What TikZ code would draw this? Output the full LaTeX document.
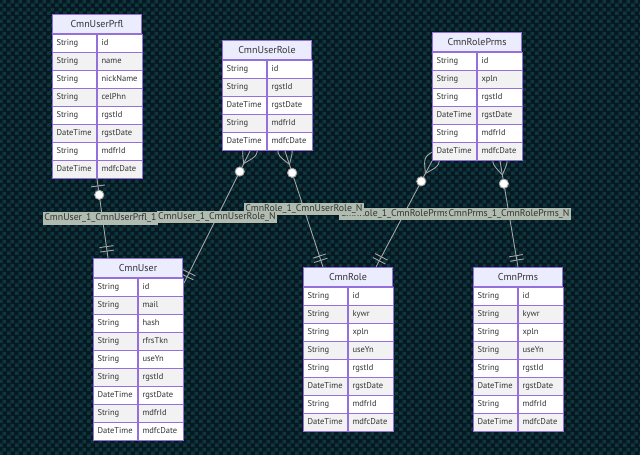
\documentclass[tikz,border=0pt]{standalone}
\usepackage{fontspec}
\setmainfont{PT Sans}
\usetikzlibrary{positioning,calc,backgrounds,patterns}

\definecolor{bgdark}{RGB}{9,24,30}
\definecolor{bgteal}{RGB}{12,56,68}
\definecolor{erpurple}{HTML}{9370DB}
\definecolor{headfill}{HTML}{ECECFF}
\definecolor{rowgrey}{HTML}{F2F2F2}
\definecolor{ertext}{HTML}{333333}
\definecolor{relgrey}{RGB}{165,165,165}
\definecolor{labelbg}{RGB}{177,188,177}

\pgfdeclarepatternformonly{checker}{\pgfqpoint{0pt}{0pt}}{\pgfqpoint{8pt}{8pt}}{\pgfqpoint{8pt}{8pt}}{%
  \pgfpathrectangle{\pgfqpoint{0pt}{0pt}}{\pgfqpoint{4pt}{4pt}}%
  \pgfpathrectangle{\pgfqpoint{4pt}{4pt}}{\pgfqpoint{4pt}{4pt}}%
  \pgfusepath{fill}}

\tikzset{
  erhead/.style={draw=erpurple, fill=headfill, line width=1pt, minimum width=89pt, minimum height=19pt, inner sep=0pt, text=ertext, font=\fontsize{10}{12}\selectfont},
  ercell/.style={draw=erpurple, line width=1pt, minimum height=18pt, inner xsep=4pt, inner ysep=0pt, text height=6.5pt, text depth=2pt, align=left, text=ertext, font=\fontsize{8.5}{10}\selectfont},
  relline/.style={draw=relgrey, line width=0.9pt},
  rellabel/.style={fill=labelbg, text=ertext, inner xsep=1.5pt, inner ysep=1.6pt, font=\fontsize{9.8}{11}\selectfont},
}

% table: name, x, y (top left), title, type/field rows
\newcommand\ertable[5]{%
  \node[erhead, anchor=north west] (#1) at (#2,#3) {#4};
  \foreach \ty/\nm [count=\i] in {#5}{%
    \ifodd\i\relax \def\rowfill{white}\else \def\rowfill{rowgrey}\fi
    \node[ercell, fill=\rowfill, text width=36pt, anchor=north west] (#1-t\i) at ($(#1.south west)+(0,{(\i-1)*18})$) {\ty};
    \node[ercell, fill=\rowfill, text width=37pt, anchor=north west] (#1-n\i) at (#1-t\i.north east) {\nm};
  }%
}

% relationship ends
\newcommand\zeroone[2]{%
  \draw[relline] ($(#1)!7pt!(#2)!7pt!90:(#2)$) -- ($(#1)!7pt!(#2)!7pt!-90:(#2)$);
  \draw[relline, fill=white] ($(#1)!16pt!(#2)$) circle[radius=4.6pt];
}
\newcommand\exactone[2]{%
  \draw[relline] ($(#1)!7pt!(#2)!7pt!90:(#2)$) -- ($(#1)!7pt!(#2)!7pt!-90:(#2)$);
  \draw[relline] ($(#1)!11.5pt!(#2)!7pt!90:(#2)$) -- ($(#1)!11.5pt!(#2)!7pt!-90:(#2)$);
}
\newcommand\zeromany[2]{%
  \draw[relline] ($(#1)!-14pt!(#2)$) .. controls ($(#1)!9.5pt!90:(#2)$) .. ($(#1)!14pt!(#2)$)
    .. controls ($(#1)!9.5pt!-90:(#2)$) .. ($(#1)!-14pt!(#2)$);
  \draw[relline, fill=white] ($(#1)!23pt!(#2)$) circle[radius=4.6pt];
}

\begin{document}
\begin{tikzpicture}[x=1pt,y=-1pt]
\useasboundingbox (0,0) rectangle (640,455);

\ertable{prfl}{52}{14}{CmnUserPrfl}{String/id, String/name, String/nickName, String/celPhn, String/rgstId, DateTime/rgstDate, String/mdfrId, DateTime/mdfcDate}
\ertable{urole}{222}{40}{CmnUserRole}{String/id, String/rgstId, DateTime/rgstDate, String/mdfrId, DateTime/mdfcDate}
\ertable{rprm}{432}{32}{CmnRolePrms}{String/id, String/xpln, String/rgstId, DateTime/rgstDate, String/mdfrId, DateTime/mdfcDate}
\ertable{usr}{93}{258}{CmnUser}{String/id, String/mail, String/hash, String/rfrsTkn, String/useYn, String/rgstId, DateTime/rgstDate, String/mdfrId, DateTime/mdfcDate}
\ertable{role}{303}{267}{CmnRole}{String/id, String/kywr, String/xpln, String/useYn, String/rgstId, DateTime/rgstDate, String/mdfrId, DateTime/mdfcDate}
\ertable{prms}{473}{267}{CmnPrms}{String/id, String/kywr, String/xpln, String/useYn, String/rgstId, DateTime/rgstDate, String/mdfrId, DateTime/mdfcDate}

\coordinate (prflB) at (prfl-n8.south west);
\coordinate (usrT) at ([xshift=15pt]usr.north west);
\coordinate (uroleL) at ([xshift=28pt]urole-t5.south west);
\coordinate (usrR) at ([yshift=-5pt]usr-n1.north east);
\coordinate (uroleR) at ([xshift=63pt]urole-t5.south west);
\coordinate (roleL) at ([xshift=20pt]role.north west);
\coordinate (rprmL) at (rprm-t6.south west);
\coordinate (roleR) at ([xshift=73pt]role.north west);
\coordinate (rprmR) at ([xshift=23pt]rprm-n6.south west);
\coordinate (prmsT) at (prms.north);

\begin{scope}[on background layer]
\fill[bgdark] (0,0) rectangle (640,455);
\fill[pattern=checker, pattern color=bgteal] (0,0) rectangle (640,455);

\draw[relline] (rprmL) -- node[rellabel, xshift=-4pt] {CmnRole\_1\_CmnRolePrms\_N} (roleR);
\zeromany{rprmL}{roleR}
\exactone{roleR}{rprmL}

\draw[relline] (uroleR) -- node[rellabel] {CmnRole\_1\_CmnUserRole\_N} (roleL);
\zeromany{uroleR}{roleL}
\exactone{roleL}{uroleR}

\draw[relline] (rprmR) -- node[rellabel] {CmnPrms\_1\_CmnRolePrms\_N} (prmsT);
\zeromany{rprmR}{prmsT}
\exactone{prmsT}{rprmR}

\draw[relline] (prflB) -- node[rellabel, xshift=-2pt] {CmnUser\_1\_CmnUserPrfl\_1} (usrT);
\zeroone{prflB}{usrT}
\exactone{usrT}{prflB}

\draw[relline] (uroleL) -- node[rellabel] {CmnUser\_1\_CmnUserRole\_N} (usrR);
\zeromany{uroleL}{usrR}
\exactone{usrR}{uroleL}
\end{scope}
\end{tikzpicture}
\end{document}
